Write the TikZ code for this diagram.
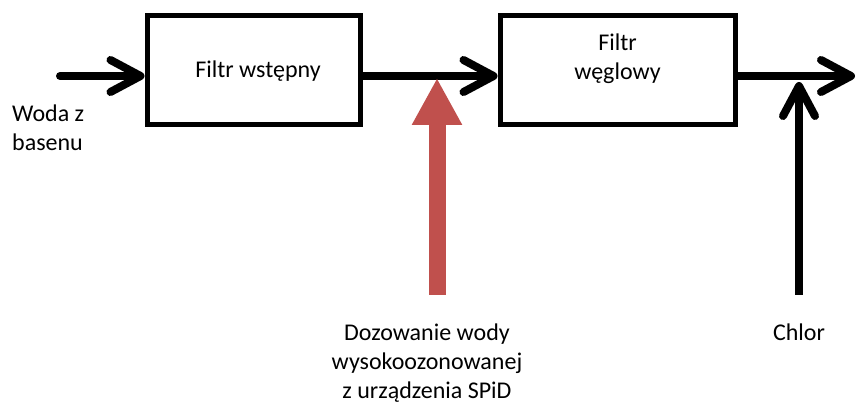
\documentclass[tikz,border=0pt]{standalone}
\usepackage{fontspec}
\setmainfont{Carlito}
\usetikzlibrary{arrows.meta}
\definecolor{offred}{HTML}{C0504D}
\begin{document}
\begin{tikzpicture}[x=1pt,y=-1pt,
  box/.style={draw, line width=5pt, minimum width=#1, minimum height=109pt, inner sep=0pt},
  lbl/.style={font=\fontsize{24}{29}\selectfont, inner sep=0pt, align=center},
  flow/.style={line width=8pt, line cap=round, line join=round,
    -{Straight Barb[length=30pt,width=32pt,line cap=round,line join=round]}},
  dose/.style={offred, line width=17pt, -{Triangle[length=47pt,width=47pt]}}]
\useasboundingbox (0,0) rectangle (860,406);
\node[box=213pt] (f1) at (253.5,70) {};
\node[box=235pt] (f2) at (617.5,70.5) {};
\node[lbl, anchor=base] (t1) at (258,78) {Filtr wstępny};
\node[lbl, anchor=north] (t2) at (617.5,34) {Filtr\\węglowy};
\coordinate (in) at (60,76);
\coordinate (out) at (855,76);
\coordinate (sp) at (437,78);
\coordinate (spb) at (437,295);
\coordinate (cl) at (799,82);
\coordinate (clb) at (799,295);
\draw[flow] (in) -- (in -| f1.west);
\draw[flow] (in -| f1.east) -- (in -| f2.west);
\draw[flow] (in -| f2.east) -- (out);
\draw[dose] (spb) -- (sp);
\draw[flow, line cap=butt] (clb) -- (cl);
\node[lbl, align=left, anchor=north west] (woda) at (12,105) {Woda z\\basenu};
\node[lbl, anchor=north] (doz) at (427,324) {Dozowanie wody\\wysokoozonowanej\\z urządzenia SPiD};
\node[lbl, anchor=north] (chl) at (799,324) {Chlor};
\end{tikzpicture}
\end{document}
